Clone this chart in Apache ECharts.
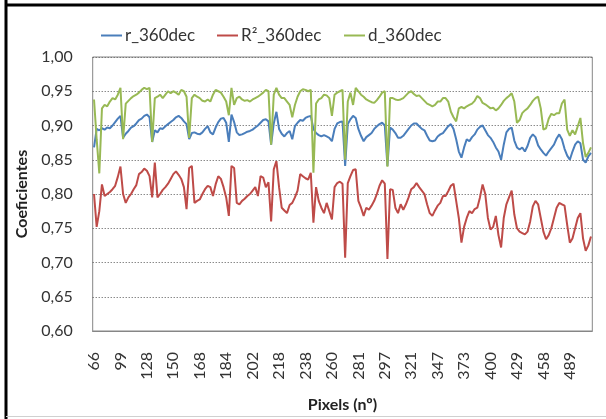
<!DOCTYPE html>
<html><head><meta charset="utf-8">
<script src="https://cdn.jsdelivr.net/npm/echarts@6/dist/echarts.min.js"></script>
<style>html,body{margin:0;padding:0;background:#fff}#c{width:606px;height:419px}</style>
</head><body><div id="c"></div>
<script>
var tickLabels = ["66","99","128","150","168","184","202","218","238","260","281","297","321","347","373","400","429","458","489"];
var seriesNames = ["r_360dec","R\u00B2_360dec","d_360dec"];
var rValues = [0.868,0.895,0.893,0.896,0.894,0.897,0.896,0.900,0.905,0.910,0.914,0.882,0.888,0.892,0.897,0.899,0.903,0.908,0.910,0.914,0.916,0.912,0.876,0.893,0.890,0.896,0.895,0.899,0.902,0.905,0.908,0.912,0.914,0.911,0.906,0.902,0.880,0.889,0.890,0.888,0.887,0.890,0.895,0.899,0.890,0.887,0.897,0.905,0.910,0.911,0.904,0.876,0.916,0.905,0.890,0.886,0.887,0.889,0.891,0.892,0.894,0.897,0.900,0.904,0.908,0.909,0.906,0.872,0.903,0.920,0.895,0.888,0.884,0.889,0.892,0.880,0.899,0.904,0.908,0.907,0.911,0.913,0.914,0.895,0.889,0.886,0.884,0.886,0.884,0.882,0.877,0.895,0.903,0.905,0.906,0.841,0.902,0.909,0.914,0.911,0.895,0.885,0.877,0.883,0.886,0.889,0.895,0.899,0.902,0.904,0.900,0.841,0.897,0.894,0.889,0.882,0.882,0.885,0.890,0.895,0.900,0.903,0.903,0.899,0.895,0.893,0.885,0.878,0.877,0.878,0.884,0.887,0.889,0.894,0.899,0.902,0.895,0.880,0.862,0.853,0.868,0.880,0.877,0.883,0.887,0.894,0.898,0.900,0.893,0.886,0.882,0.876,0.868,0.862,0.850,0.872,0.890,0.895,0.897,0.878,0.868,0.865,0.868,0.862,0.870,0.882,0.887,0.883,0.871,0.865,0.860,0.856,0.862,0.867,0.872,0.881,0.887,0.880,0.866,0.856,0.850,0.862,0.872,0.877,0.874,0.850,0.846,0.855,0.860];
var r2Values = [0.800,0.752,0.775,0.814,0.797,0.800,0.803,0.807,0.812,0.825,0.840,0.800,0.787,0.795,0.800,0.807,0.813,0.829,0.832,0.837,0.834,0.826,0.795,0.846,0.795,0.800,0.806,0.810,0.815,0.822,0.829,0.833,0.828,0.822,0.810,0.778,0.838,0.841,0.787,0.790,0.792,0.800,0.807,0.812,0.810,0.797,0.814,0.826,0.822,0.810,0.795,0.768,0.841,0.838,0.787,0.785,0.790,0.793,0.797,0.800,0.805,0.810,0.797,0.826,0.824,0.810,0.817,0.760,0.836,0.848,0.810,0.780,0.776,0.772,0.784,0.787,0.795,0.805,0.829,0.826,0.823,0.821,0.831,0.758,0.810,0.790,0.780,0.772,0.787,0.775,0.763,0.810,0.816,0.818,0.815,0.707,0.816,0.826,0.835,0.836,0.790,0.780,0.768,0.780,0.777,0.783,0.790,0.800,0.812,0.820,0.815,0.705,0.807,0.806,0.780,0.772,0.785,0.777,0.785,0.795,0.807,0.810,0.816,0.810,0.805,0.800,0.785,0.772,0.768,0.776,0.783,0.787,0.797,0.797,0.804,0.812,0.815,0.790,0.765,0.729,0.752,0.765,0.775,0.772,0.778,0.780,0.795,0.814,0.800,0.765,0.748,0.752,0.768,0.740,0.722,0.765,0.785,0.795,0.805,0.770,0.750,0.745,0.743,0.741,0.745,0.760,0.782,0.790,0.785,0.765,0.745,0.734,0.740,0.750,0.765,0.780,0.787,0.785,0.783,0.755,0.729,0.735,0.750,0.765,0.772,0.735,0.717,0.725,0.738];
var dValues = [0.938,0.880,0.830,0.925,0.930,0.928,0.935,0.940,0.938,0.945,0.955,0.880,0.932,0.936,0.940,0.943,0.945,0.948,0.952,0.955,0.953,0.955,0.876,0.940,0.942,0.945,0.940,0.945,0.950,0.947,0.950,0.948,0.945,0.952,0.950,0.942,0.882,0.940,0.945,0.942,0.940,0.936,0.935,0.938,0.935,0.945,0.952,0.950,0.948,0.942,0.935,0.915,0.955,0.930,0.940,0.942,0.938,0.936,0.937,0.935,0.938,0.940,0.942,0.945,0.948,0.952,0.950,0.872,0.945,0.955,0.945,0.940,0.940,0.935,0.930,0.912,0.930,0.942,0.950,0.953,0.952,0.950,0.952,0.831,0.932,0.938,0.940,0.945,0.944,0.940,0.914,0.945,0.948,0.950,0.952,0.850,0.935,0.948,0.930,0.955,0.950,0.945,0.942,0.938,0.936,0.934,0.933,0.937,0.942,0.948,0.950,0.840,0.940,0.940,0.938,0.937,0.938,0.940,0.944,0.948,0.950,0.946,0.943,0.944,0.940,0.936,0.932,0.930,0.928,0.930,0.935,0.935,0.940,0.940,0.935,0.920,0.912,0.906,0.925,0.927,0.925,0.928,0.930,0.932,0.936,0.943,0.940,0.933,0.931,0.928,0.925,0.926,0.922,0.925,0.930,0.936,0.940,0.943,0.947,0.935,0.904,0.908,0.918,0.922,0.925,0.930,0.936,0.940,0.942,0.925,0.894,0.896,0.910,0.917,0.915,0.918,0.918,0.932,0.938,0.894,0.885,0.893,0.887,0.899,0.911,0.874,0.854,0.860,0.868];
var labelStep = 10;
var categories = rValues.map(function(_, i){ return String(i); });

var FONT = 'Lato, "Open Sans", sans-serif';
var colors = ['#4A7EBB', '#BE4B48', '#98B954'];
var chart = echarts.init(document.getElementById('c'), null, {renderer:'canvas'});
function leg(name, left){
  return {data:[name], left:left, top:22, icon:'rect', itemWidth:21, itemHeight:2, itemGap:0,
    textStyle:{fontFamily:FONT, fontSize:17, color:'#333', padding:[0,0,0,-2]}, selectedMode:false};
}
var series = [rValues, r2Values, dValues].map(function(v, k){
  return {name:seriesNames[k], type:'line', data:v, symbol:'none', smooth:false,
    lineStyle:{width:2, color:colors[k]}, itemStyle:{color:colors[k]}, animation:false};
});
chart.setOption({
  backgroundColor:'#fff',
  animation:false,
  color:colors,
  legend:[leg(seriesNames[0], 96), leg(seriesNames[1], 212), leg(seriesNames[2], 339)],
  grid:{left:92.7, right:13.7, top:57, bottom:88, show:true, borderColor:'#868686', borderWidth:1, backgroundColor:'#fff'},
  xAxis:{type:'category', data:categories, boundaryGap:true,
    axisLine:{show:true, lineStyle:{color:'#868686'}}, axisTick:{show:false},
    axisLabel:{interval:labelStep-1, rotate:90, margin:21, fontFamily:FONT, fontSize:16, color:'#333',
      formatter:function(v, idx){ return idx % labelStep === 0 ? (tickLabels[idx/labelStep] || '') : ''; }},
    splitLine:{show:false},
    name:'Pixels (n\u00BA)', nameLocation:'middle', nameGap:66,
    nameTextStyle:{fontFamily:FONT, fontSize:16, fontWeight:'bold', color:'#222'}},
  yAxis:{type:'value', min:0.6, max:1.0, interval:0.05,
    axisLine:{show:false}, axisTick:{show:false},
    axisLabel:{margin:20, fontFamily:FONT, fontSize:16, color:'#333',
      formatter:function(v){ return v.toFixed(2).replace('.', ','); }},
    splitLine:{show:true, lineStyle:{color:'#555', type:[1,2], width:1}},
    name:'Coeficientes', nameLocation:'middle', nameGap:52, nameRotate:90,
    nameTextStyle:{fontFamily:FONT, fontSize:16, fontWeight:'bold', color:'#222'}},
  series:series,
  graphic:[
    {type:'line', shape:{x1:6, y1:0, x2:6, y2:419}, style:{stroke:'#000', lineWidth:3}, silent:true},
    {type:'line', shape:{x1:6, y1:5, x2:606, y2:5}, style:{stroke:'#000', lineWidth:3}, silent:true},
    {type:'line', shape:{x1:6, y1:416.5, x2:606, y2:416.5}, style:{stroke:'#d0d0d0', lineWidth:1}, silent:true}
  ]
});
</script></body></html>
